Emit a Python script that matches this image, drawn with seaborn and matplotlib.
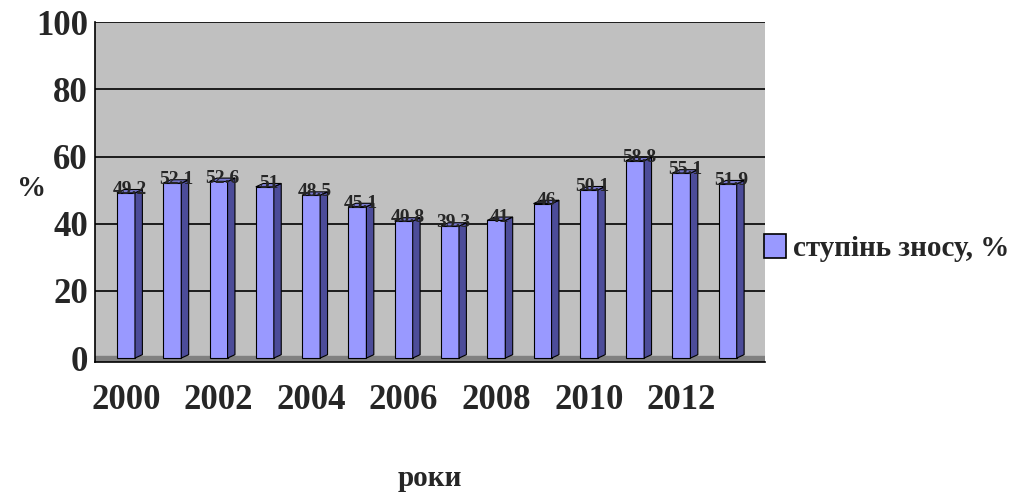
import matplotlib
matplotlib.use("Agg")
import matplotlib.pyplot as plt
from matplotlib.patches import Polygon, Patch
import numpy as np
import pandas as pd
import seaborn as sns

years = [2000, 2001, 2002, 2003, 2004, 2005, 2006, 2007, 2008, 2009, 2010, 2011, 2012, 2013]
wear = [49.2, 52.1, 52.6, 51, 48.5, 45.1, 40.8, 39.3, 41, 46, 50.1, 58.8, 55.1, 51.9]
value_labels = ["49.2", "52.1", "52.6", "51", "48.5", "45.1", "40.8", "39.3", "41", "46",
                "50.1", "58.8", "55.1", "51.9"]
series_name = "ступінь зносу, %"

sns.set_style("white")
plt.rcParams['font.family'] = ['Liberation Serif', 'DejaVu Serif']
plt.rcParams['font.weight'] = 'bold'

df = pd.DataFrame({"year": years, "wear": wear})

fig = plt.figure(figsize=(10.32, 4.96), dpi=100)
ax = fig.add_axes([0.092, 0.270, 0.649, 0.685])
ax.set_facecolor("#C0C0C0")

front = "#9999FF"
side = "#4C4C99"
sns.barplot(data=df, x="year", y="wear", color=front, width=0.39,
            edgecolor="black", linewidth=0.8, saturation=1, ax=ax, zorder=3)

# fake 3d depth: side + top faces from each bar's geometry
dx, dy = 0.16, 1.0
for p, lab in zip(ax.patches, value_labels):
    x0 = p.get_x()
    w = p.get_width()
    h = p.get_height()
    x1 = x0 + w
    ax.add_patch(Polygon([[x1, 0], [x1 + dx, dy], [x1 + dx, h + dy], [x1, h]],
                         closed=True, facecolor=side, edgecolor="black", lw=0.8, zorder=3))
    ax.add_patch(Polygon([[x0, h], [x0 + dx, h + dy], [x1 + dx, h + dy], [x1, h]],
                         closed=True, facecolor="#7777CC", edgecolor="black", lw=0.8, zorder=3))
    ax.text(x0 + (w + dx) / 2, h + 1.0, lab, ha="center", va="center",
            fontsize=14, fontweight="bold", zorder=5)

# floor
ax.axhspan(-1.2, 0.6, color="#808080", zorder=2)

ax.set_ylim(-1.2, 100)
ax.set_xlim(-0.67, 13.8)
ax.set_yticks([0, 20, 40, 60, 80, 100])
ax.set_yticklabels(["0", "20", "40", "60", "80", "100"], fontsize=25, fontweight="bold")
for yv in [20, 40, 60, 80, 100]:
    ax.axhline(yv, color="black", lw=1.2, zorder=1)

xt = list(range(0, len(years), 2))
ax.set_xticks(xt)
ax.set_xticklabels([str(years[i]) for i in xt], fontsize=25, fontweight="bold")
ax.set_xticks([i + 0.5 for i in range(len(years) - 1)], minor=True)
ax.tick_params(axis="x", which="major", length=0, pad=16)
ax.tick_params(axis="x", which="minor", length=7, width=1.2, direction="out")
ax.tick_params(axis="y", length=4, width=1.2, direction="out", pad=1)

for s in ["top", "right"]:
    ax.spines[s].set_visible(False)
ax.spines["left"].set_linewidth(1.2)
ax.spines["bottom"].set_linewidth(1.2)
ax.spines["left"].set_color("black")
ax.spines["bottom"].set_color("black")

ax.set_xlabel("роки", fontsize=21, fontweight="bold", labelpad=34)
ax.set_ylabel("%", fontsize=21, fontweight="bold", rotation=0)
ax.yaxis.set_label_coords(-0.095, 0.47)

handle = Patch(facecolor=front, edgecolor="black", lw=1.2)
ax.legend([handle], [series_name], loc="center left", bbox_to_anchor=(0.96, 0.335),
          frameon=False, prop={"size": 21, "weight": "bold"},
          handlelength=0.75, handleheight=0.85, handletextpad=0.25)

fig.savefig("out.png", dpi=100)
